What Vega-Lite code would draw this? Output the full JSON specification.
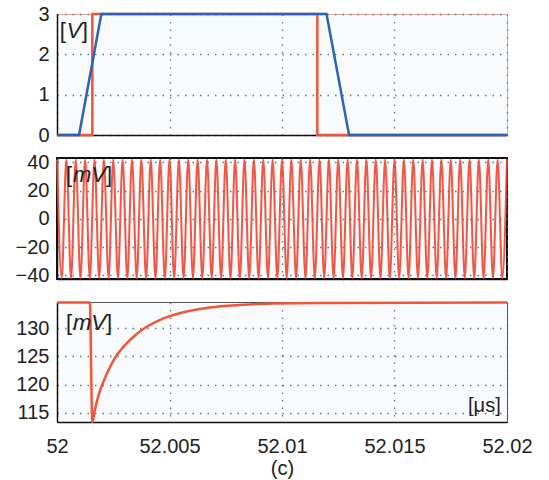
{
  "$schema": "https://vega.github.io/schema/vega-lite/v6.json",
  "padding": {"left": 14, "top": 3, "right": 30, "bottom": 4},
  "spacing": 23,
  "bounds": "flush",
  "config": {
    "font": "Liberation Sans",
    "view": {"fill": "#f9fafc"},
    "axis": {
      "labelFontSize": 20, "labelColor": "#222", "ticks": false,
      "gridDash": [1.5, 6], "gridColor": "#4f6b80", "gridWidth": 1.3, "gridOpacity": 0.9,
      "domainColor": "#111", "domainWidth": 1.5, "labelPadding": 8,
      "titleFontSize": 20, "titleFontWeight": "normal", "titleColor": "#222", "titleFont": "Liberation Sans"
    },
    "text": {"font": "Liberation Sans", "color": "#222"}
  },
  "datasets": {
    "lab1": [{"t": 52.00012, "v": 2.58}],
    "lab2": [{"t": 52.0004, "v": 31}],
    "lab3": [{"t": 52.0004, "v": 130.9}],
    "lab4": [{"t": 52.01972, "v": 116.2}],
    "red1": [
      {"i": 0, "t": 52.0, "v": 0}, {"i": 1, "t": 52.00157, "v": 0}, {"i": 2, "t": 52.00157, "v": 3},
      {"i": 3, "t": 52.01157, "v": 3}, {"i": 4, "t": 52.01157, "v": 0}, {"i": 5, "t": 52.02, "v": 0}
    ],
    "blue1": [
      {"i": 0, "t": 52.0, "v": 0}, {"i": 1, "t": 52.00098, "v": 0}, {"i": 2, "t": 52.00197, "v": 3},
      {"i": 3, "t": 52.01198, "v": 3}, {"i": 4, "t": 52.01298, "v": 0}, {"i": 5, "t": 52.02, "v": 0}
    ],
    "sig": [
      {"t": 52.0, "v": 42}, {"t": 52.000208, "v": -42}, {"t": 52.000417, "v": 42}, {"t": 52.000625, "v": -42},
      {"t": 52.000833, "v": 42}, {"t": 52.001042, "v": -42}, {"t": 52.00125, "v": 42}, {"t": 52.001458, "v": -42},
      {"t": 52.001667, "v": 42}, {"t": 52.001875, "v": -42}, {"t": 52.002083, "v": 42}, {"t": 52.002292, "v": -42},
      {"t": 52.0025, "v": 42}, {"t": 52.002708, "v": -42}, {"t": 52.002917, "v": 42}, {"t": 52.003125, "v": -42},
      {"t": 52.003333, "v": 42}, {"t": 52.003542, "v": -42}, {"t": 52.00375, "v": 42}, {"t": 52.003958, "v": -42},
      {"t": 52.004167, "v": 42}, {"t": 52.004375, "v": -42}, {"t": 52.004583, "v": 42}, {"t": 52.004792, "v": -42},
      {"t": 52.005, "v": 42}, {"t": 52.005208, "v": -42}, {"t": 52.005417, "v": 42}, {"t": 52.005625, "v": -42},
      {"t": 52.005833, "v": 42}, {"t": 52.006042, "v": -42}, {"t": 52.00625, "v": 42}, {"t": 52.006458, "v": -42},
      {"t": 52.006667, "v": 42}, {"t": 52.006875, "v": -42}, {"t": 52.007083, "v": 42}, {"t": 52.007292, "v": -42},
      {"t": 52.0075, "v": 42}, {"t": 52.007708, "v": -42}, {"t": 52.007917, "v": 42}, {"t": 52.008125, "v": -42},
      {"t": 52.008333, "v": 42}, {"t": 52.008542, "v": -42}, {"t": 52.00875, "v": 42}, {"t": 52.008958, "v": -42},
      {"t": 52.009167, "v": 42}, {"t": 52.009375, "v": -42}, {"t": 52.009583, "v": 42}, {"t": 52.009792, "v": -42},
      {"t": 52.01, "v": 42}, {"t": 52.010208, "v": -42}, {"t": 52.010417, "v": 42}, {"t": 52.010625, "v": -42},
      {"t": 52.010833, "v": 42}, {"t": 52.011042, "v": -42}, {"t": 52.01125, "v": 42}, {"t": 52.011458, "v": -42},
      {"t": 52.011667, "v": 42}, {"t": 52.011875, "v": -42}, {"t": 52.012083, "v": 42}, {"t": 52.012292, "v": -42},
      {"t": 52.0125, "v": 42}, {"t": 52.012708, "v": -42}, {"t": 52.012917, "v": 42}, {"t": 52.013125, "v": -42},
      {"t": 52.013333, "v": 42}, {"t": 52.013542, "v": -42}, {"t": 52.01375, "v": 42}, {"t": 52.013958, "v": -42},
      {"t": 52.014167, "v": 42}, {"t": 52.014375, "v": -42}, {"t": 52.014583, "v": 42}, {"t": 52.014792, "v": -42},
      {"t": 52.015, "v": 42}, {"t": 52.015208, "v": -42}, {"t": 52.015417, "v": 42}, {"t": 52.015625, "v": -42},
      {"t": 52.015833, "v": 42}, {"t": 52.016042, "v": -42}, {"t": 52.01625, "v": 42}, {"t": 52.016458, "v": -42},
      {"t": 52.016667, "v": 42}, {"t": 52.016875, "v": -42}, {"t": 52.017083, "v": 42}, {"t": 52.017292, "v": -42},
      {"t": 52.0175, "v": 42}, {"t": 52.017708, "v": -42}, {"t": 52.017917, "v": 42}, {"t": 52.018125, "v": -42},
      {"t": 52.018333, "v": 42}, {"t": 52.018542, "v": -42}, {"t": 52.01875, "v": 42}, {"t": 52.018958, "v": -42},
      {"t": 52.019167, "v": 42}, {"t": 52.019375, "v": -42}, {"t": 52.019583, "v": 42}, {"t": 52.019792, "v": -42},
      {"t": 52.02, "v": 42}
    ],
    "env": [
      {"i": 0, "t": 52.0, "v": 134.5}, {"i": 1, "t": 52.00146, "v": 134.5}, {"i": 2, "t": 52.00157, "v": 113.4},
      {"i": 3, "t": 52.00167, "v": 115.3}, {"i": 4, "t": 52.00177, "v": 117.0}, {"i": 5, "t": 52.0019, "v": 118.8},
      {"i": 6, "t": 52.00207, "v": 120.6}, {"i": 7, "t": 52.00232, "v": 122.8}, {"i": 8, "t": 52.00257, "v": 124.7},
      {"i": 9, "t": 52.00287, "v": 126.3}, {"i": 10, "t": 52.00317, "v": 127.6}, {"i": 11, "t": 52.00357, "v": 129.05},
      {"i": 12, "t": 52.0039, "v": 130.0}, {"i": 13, "t": 52.00437, "v": 131.05}, {"i": 14, "t": 52.005, "v": 132.1},
      {"i": 15, "t": 52.00557, "v": 132.76}, {"i": 16, "t": 52.00657, "v": 133.5}, {"i": 17, "t": 52.00757, "v": 133.94},
      {"i": 18, "t": 52.00857, "v": 134.18}, {"i": 19, "t": 52.00957, "v": 134.32}, {"i": 20, "t": 52.01157, "v": 134.44},
      {"i": 21, "t": 52.02, "v": 134.5}
    ]
  },
  "vconcat": [
    {
      "width": 450, "height": 121,
      "view": {"stroke": "#e5aaa2", "strokeWidth": 1},
      "encoding": {
        "x": {"field": "t", "type": "quantitative", "scale": {"domain": [52, 52.02], "nice": false},
              "axis": {"labels": false, "title": null, "values": [52, 52.005, 52.01, 52.015, 52.02]}},
        "y": {"field": "v", "type": "quantitative", "scale": {"domain": [0, 3], "nice": false},
              "axis": {"title": null, "values": [0, 1, 2, 3]}}
      },
      "layer": [
        {"data": {"name": "red1"}, "mark": {"type": "line", "color": "#f0553a", "strokeWidth": 2.5},
         "encoding": {"order": {"field": "i"}}},
        {"data": {"name": "blue1"}, "mark": {"type": "line", "color": "#2b63b8", "strokeWidth": 2.5},
         "encoding": {"order": {"field": "i"}}},
        {"data": {"name": "lab1"}, "mark": {"type": "text", "text": "[", "align": "left", "baseline": "middle", "fontSize": 22}},
        {"data": {"name": "lab1"}, "mark": {"type": "text", "text": "V", "align": "left", "baseline": "middle", "fontSize": 22, "fontStyle": "italic", "dx": 7}},
        {"data": {"name": "lab1"}, "mark": {"type": "text", "text": "]", "align": "left", "baseline": "middle", "fontSize": 22, "dx": 22}}
      ]
    },
    {
      "width": 450, "height": 121,
      "view": {"stroke": "#111", "strokeWidth": 2},
      "encoding": {
        "x": {"field": "t", "type": "quantitative", "scale": {"domain": [52, 52.02], "nice": false},
              "axis": {"labels": false, "title": null, "values": [52, 52.005, 52.01, 52.015, 52.02]}},
        "y": {"field": "v", "type": "quantitative", "scale": {"domain": [-42.5, 43], "nice": false},
              "axis": {"title": null, "values": [-40, -20, 0, 20, 40]}}
      },
      "layer": [
        {"data": {"name": "sig"}, "mark": {"type": "line", "color": "#ef4530", "strokeWidth": 2, "interpolate": "monotone", "opacity": 0.9}},
        {"data": {"name": "lab2"}, "mark": {"type": "text", "text": "[", "align": "left", "baseline": "middle", "fontSize": 22}},
        {"data": {"name": "lab2"}, "mark": {"type": "text", "text": "mV", "align": "left", "baseline": "middle", "fontSize": 22, "fontStyle": "italic", "dx": 7}},
        {"data": {"name": "lab2"}, "mark": {"type": "text", "text": "]", "align": "left", "baseline": "middle", "fontSize": 22, "dx": 40}}
      ]
    },
    {
      "width": 450, "height": 120,
      "view": {"stroke": "#555", "strokeWidth": 1},
      "encoding": {
        "x": {"field": "t", "type": "quantitative", "scale": {"domain": [52, 52.02], "nice": false},
              "axis": {"title": "(c)", "values": [52, 52.005, 52.01, 52.015, 52.02], "format": "~f", "labelFlush": false, "labelPadding": 14, "titlePadding": 2}},
        "y": {"field": "v", "type": "quantitative", "scale": {"domain": [113.4, 134.6], "nice": false},
              "axis": {"title": null, "values": [115, 120, 125, 130]}}
      },
      "layer": [
        {"data": {"name": "env"}, "mark": {"type": "line", "color": "#f0553a", "strokeWidth": 2.5, "interpolate": "monotone"},
         "encoding": {"order": {"field": "i"}}},
        {"data": {"name": "lab3"}, "mark": {"type": "text", "text": "[", "align": "left", "baseline": "middle", "fontSize": 22}},
        {"data": {"name": "lab3"}, "mark": {"type": "text", "text": "mV", "align": "left", "baseline": "middle", "fontSize": 22, "fontStyle": "italic", "dx": 7}},
        {"data": {"name": "lab3"}, "mark": {"type": "text", "text": "]", "align": "left", "baseline": "middle", "fontSize": 22, "dx": 40}},
        {"data": {"name": "lab4"}, "mark": {"type": "text", "text": "[μs]", "align": "right", "baseline": "middle", "fontSize": 20}}
      ]
    }
  ]
}
